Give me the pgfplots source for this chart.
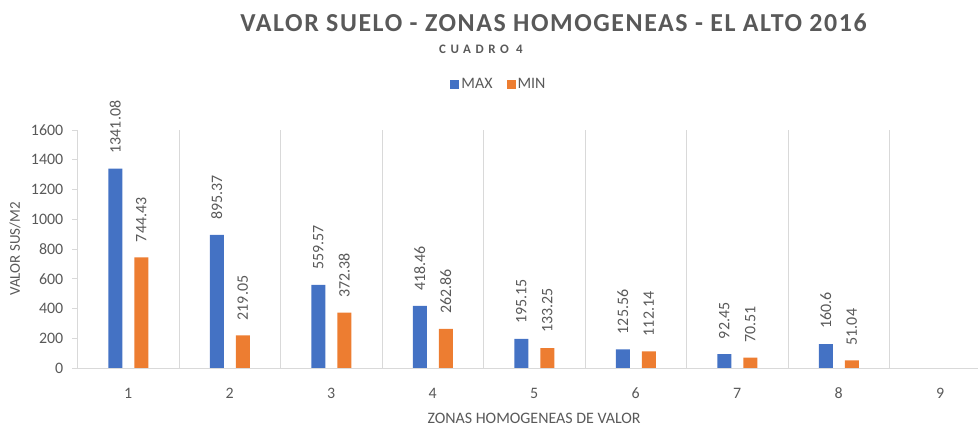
\documentclass[border=0pt]{standalone}
\usepackage{fontspec}
\setmainfont{Carlito}
\newfontfamily\titlefont[LetterSpace=6]{Carlito}
\newfontfamily\subfont[LetterSpace=35]{Carlito}
\usepackage{pgfplots}
\pgfplotsset{compat=1.18}
\definecolor{cmax}{HTML}{4472C4}
\definecolor{cmin}{HTML}{ED7D31}
\definecolor{txt}{HTML}{595959}
\definecolor{grd}{HTML}{D9D9D9}
\begin{document}
\begin{tikzpicture}
\begin{axis}[
  at={(77.5bp,60bp)}, anchor=south west,
  scale only axis, width=900.5bp, height=238bp,
  xmin=0.5, xmax=9.372, ymin=0, ymax=1600,
  ybar=12bp, bar width=14bp,
  xtick={1,...,9},
  minor xtick={1.5,2.5,...,8.5},
  xminorgrids=true,
  minor grid style={grd, line width=1pt},
  ytick={0,200,...,1600},
  axis x line*=bottom, axis y line*=left,
  axis line style={grd, line width=0.8pt},
  x axis line style={line width=1pt},
  major tick length=0pt, minor tick length=0pt,
  y tick style={grd, line width=0.8pt},
  ytick style={/pgfplots/major tick length=5bp},
  tick align=outside,
  /pgf/number format/assume math mode=true,
  /pgf/number format/1000 sep={},
  tick label style={font=\fontsize{16}{18}\selectfont, text=txt},
  xticklabel style={anchor=center, yshift=-25bp, inner sep=0pt},
  yticklabel style={anchor=east, inner sep=0pt, xshift=-14bp},
  xlabel={ZONAS HOMOGENEAS DE VALOR},
  ylabel={VALOR SUS/M2},
  x label style={at={(axis description cs:0.507,-0.212)}, anchor=center, font=\fontsize{16}{18}\selectfont, text=txt},
  y label style={at={(axis description cs:-0.0693,0.5)}, anchor=center, rotate=0, font=\fontsize{15}{17}\selectfont, text=txt},
  nodes near coords={\pgfmathprintnumber[fixed,precision=2,1000 sep={},assume math mode=true]{\pgfplotspointmeta}},
  nodes near coords style={rotate=90, anchor=west, inner sep=0pt, xshift=15bp, font=\fontsize{16}{18}\selectfont, text=txt},
  legend style={at={(0.468,1.193)}, anchor=center, legend columns=-1, draw=none, fill=none,
    font=\fontsize{16}{18}\selectfont, text=txt,
    /tikz/every even column/.append style={column sep=12bp}},
  legend image code/.code={\fill[#1, draw=none] (0bp,-4.5bp) rectangle (9bp,4.5bp);},
  clip=false,
]
\addplot[fill=cmax, draw=none] coordinates {(1,1341.08) (2,895.37) (3,559.57) (4,418.46) (5,195.15) (6,125.56) (7,92.45) (8,160.6)};
\addplot[fill=cmin, draw=none] coordinates {(1,744.43) (2,219.05) (3,372.38) (4,262.86) (5,133.25) (6,112.14) (7,70.51) (8,51.04)};
\legend{MAX, MIN}
\end{axis}
\node[text=txt, font=\titlefont\bfseries\fontsize{26}{30}\selectfont, anchor=center] at (553.5bp,405bp) {VALOR SUELO - ZONAS HOMOGENEAS - EL ALTO 2016};
\node[text=txt, font=\subfont\bfseries\fontsize{13}{15}\selectfont, anchor=center] at (481bp,379bp) {CUADRO 4};
\pgfresetboundingbox
\useasboundingbox (0,0) rectangle (978bp,428bp);
\end{tikzpicture}
\end{document}
